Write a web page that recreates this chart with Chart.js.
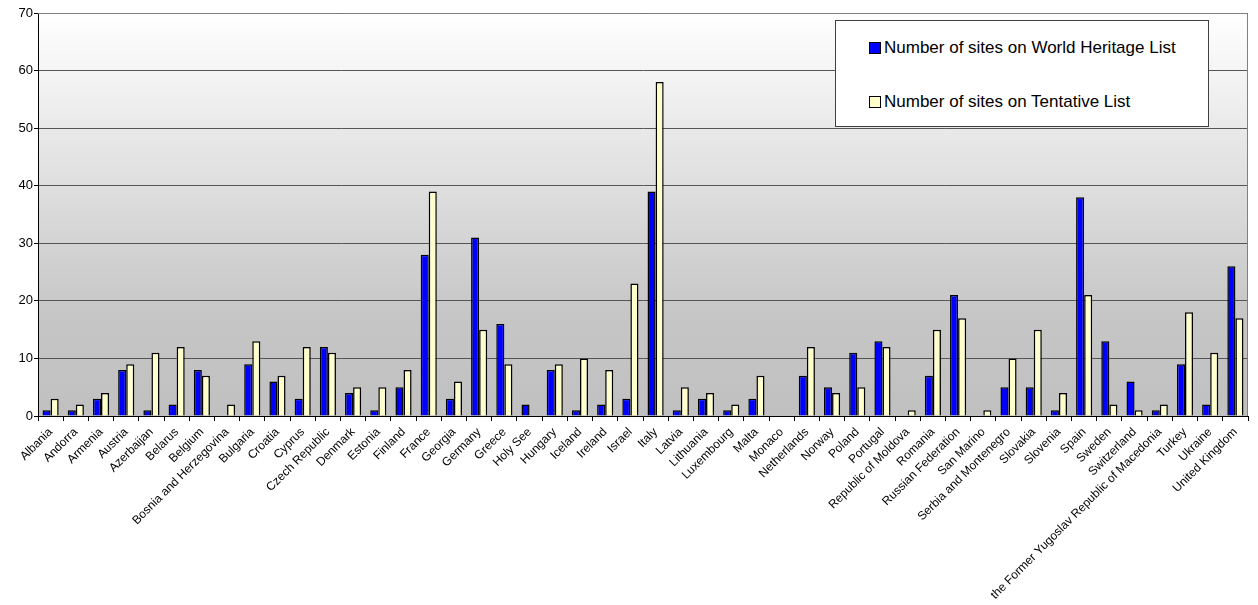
<!DOCTYPE html>
<html>
<head>
<meta charset="utf-8">
<title>World Heritage sites in Europe</title>
<script src="https://cdn.jsdelivr.net/npm/chart.js@4/dist/chart.umd.min.js"></script>
<style>
  body { margin: 0; background: #fff; font-family: "Liberation Sans", Arial, sans-serif; }
  #wrap { position: relative; width: 1258px; height: 605px; }
  #legend {
    position: absolute; left: 835px; top: 20px; width: 374px; height: 107px;
    background: #fff; border: 1px solid #404040; box-sizing: border-box;
    font-size: 17px; color: #000;
  }
  #legend .item { position: absolute; left: 33px; display: flex; align-items: center; white-space: nowrap; line-height: 20px; }
  #legend .box { width: 10px; height: 10px; border: 1px solid #000; margin-right: 3px; }
</style>
</head>
<body>
<div id="wrap">
  <canvas id="sitesChart" width="1258" height="605"></canvas>
  <div id="legend"></div>
</div>
<script>
const countries = [
  "Albania", "Andorra", "Armenia", "Austria", "Azerbaijan", "Belarus", "Belgium",
  "Bosnia and Herzegovina", "Bulgaria", "Croatia", "Cyprus", "Czech Republic", "Denmark",
  "Estonia", "Finland", "France", "Georgia", "Germany", "Greece", "Holy See", "Hungary",
  "Iceland", "Ireland", "Israel", "Italy", "Latvia", "Lithuania", "Luxembourg", "Malta",
  "Monaco", "Netherlands", "Norway", "Poland", "Portugal", "Republic of Moldova", "Romania",
  "Russian Federation", "San Marino", "Serbia and Montenegro", "Slovakia", "Slovenia",
  "Spain", "Sweden", "Switzerland", "the Former Yugoslav Republic of Macedonia", "Turkey",
  "Ukraine", "United Kingdom"
];

const heritageSites = [
  1, 1, 3, 8, 1, 2, 8, 0, 9, 6, 3, 12, 4, 1, 5, 28, 3, 31, 16, 2, 8, 1, 2, 3, 39,
  1, 3, 1, 3, 0, 7, 5, 11, 13, 0, 7, 21, 0, 5, 5, 1, 38, 13, 6, 1, 9, 2, 26
];

const tentativeSites = [
  3, 2, 4, 9, 11, 12, 7, 2, 13, 7, 12, 11, 5, 5, 8, 39, 6, 15, 9, 0, 9, 10, 8, 23, 58,
  5, 4, 2, 7, 0, 12, 4, 5, 12, 1, 15, 17, 1, 10, 15, 4, 21, 2, 1, 2, 18, 11, 17
];

const yTicks = [0, 10, 20, 30, 40, 50, 60, 70];

const FONT = "'Liberation Sans', Arial, sans-serif";

// gradient plot background plus the grey top/right frame
const plotFrame = {
  id: 'plotFrame',
  beforeDraw(chart) {
    const { ctx, chartArea: a } = chart;
    const g = ctx.createLinearGradient(0, a.top, 0, a.bottom);
    g.addColorStop(0, '#ffffff');
    g.addColorStop(0.75, '#c6c6c6');
    g.addColorStop(1, '#c0c0c0');
    ctx.save();
    ctx.fillStyle = g;
    ctx.fillRect(a.left, a.top, a.right - a.left, a.bottom - a.top);
    ctx.restore();
  },
  afterDatasetsDraw(chart) {
    const { ctx, chartArea: a } = chart;
    ctx.save();
    ctx.strokeStyle = '#808080';
    ctx.lineWidth = 1;
    ctx.beginPath();
    ctx.moveTo(a.left, a.top + 0.5);
    ctx.lineTo(a.right - 0.5, a.top + 0.5);
    ctx.lineTo(a.right - 0.5, a.bottom);
    ctx.stroke();
    ctx.restore();
  }
};

const chart = new Chart(document.getElementById('sitesChart'), {
  type: 'bar',
  data: {
    labels: countries,
    datasets: [
      {
        label: 'Number of sites on World Heritage List',
        data: heritageSites,
        backgroundColor: '#0000ff',
        borderColor: '#000000',
        borderWidth: 1.5,
        borderSkipped: 'bottom',
        categoryPercentage: 0.64,
        barPercentage: 1.0
      },
      {
        label: 'Number of sites on Tentative List',
        data: tentativeSites,
        backgroundColor: '#ffffcc',
        borderColor: '#000000',
        borderWidth: 1.5,
        borderSkipped: 'bottom',
        categoryPercentage: 0.64,
        barPercentage: 1.0
      }
    ]
  },
  options: {
    responsive: false,
    animation: false,
    layout: { padding: { top: 13, right: 10, left: 0, bottom: 0 } },
    plugins: {
      legend: { display: false },
      tooltip: { enabled: false }
    },
    scales: {
      x: {
        offset: true,
        grid: {
          offset: true,
          drawOnChartArea: false,
          drawTicks: true,
          tickLength: 5,
          color: '#000'
        },
        border: { color: '#000', width: 1 },
        ticks: {
          autoSkip: false,
          minRotation: 45,
          maxRotation: 45,
          padding: 4,
          color: '#000',
          font: { family: FONT, size: 12 }
        },
        afterFit(scale) { scale.height = 189; }
      },
      y: {
        min: 0,
        max: 70,
        afterBuildTicks(scale) { scale.ticks = yTicks.map(v => ({ value: v })); },
        grid: {
          color: '#555555',
          tickLength: 4,
          tickColor: '#000'
        },
        border: { color: '#000', width: 1 },
        ticks: {
          padding: 1,
          color: '#000',
          font: { family: FONT, size: 13 }
        },
        afterFit(scale) { scale.width = 38; }
      }
    }
  },
  plugins: [plotFrame]
});

// legend box built from the dataset labels and colours
const legend = document.getElementById('legend');
chart.data.datasets.forEach((ds, i) => {
  const item = document.createElement('div');
  item.className = 'item';
  item.style.top = (i === 0 ? 17 : 71) + 'px';
  const box = document.createElement('span');
  box.className = 'box';
  box.style.background = ds.backgroundColor;
  const text = document.createElement('span');
  text.textContent = ds.label;
  item.appendChild(box);
  item.appendChild(text);
  legend.appendChild(item);
});
</script>
</body>
</html>
